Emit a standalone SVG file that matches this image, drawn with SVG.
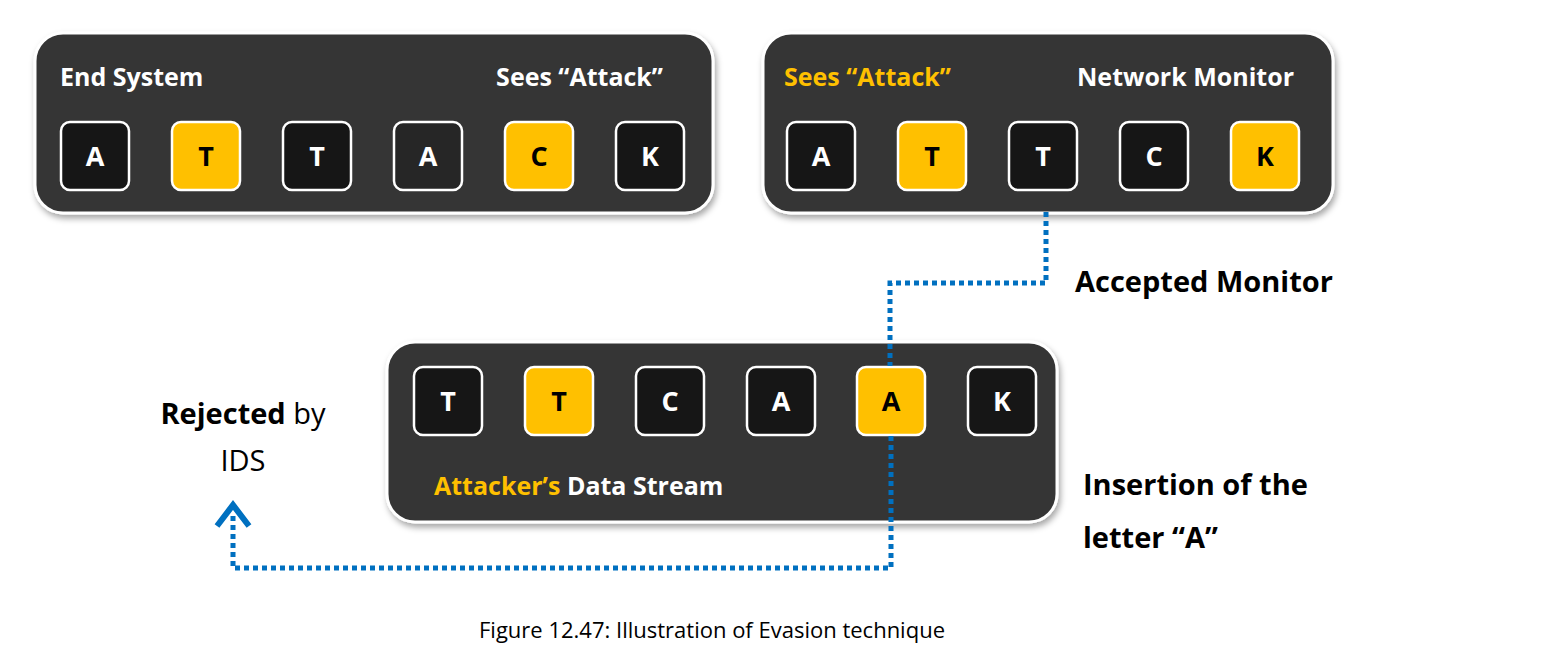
<svg xmlns="http://www.w3.org/2000/svg" width="1556" height="672" viewBox="0 0 1556 672">
<defs>
<filter id="sh" x="-5%" y="-10%" width="110%" height="125%"><feDropShadow dx="2" dy="4" stdDeviation="3" flood-color="#000" flood-opacity="0.35"/></filter>
</defs>
<style>
.panel{fill:#353535;stroke:#fff;stroke-width:3;filter:url(#sh)}
.tk{fill:#161616;stroke:#fff;stroke-width:2.5}
.ty{fill:#FFC000;stroke:#fff;stroke-width:2.5}
.tg{fill:#262626;stroke:#fff;stroke-width:2.5}
.lw{font-family:"Open Sans","Liberation Sans",sans-serif;font-weight:bold;font-size:27px;fill:#fff;text-anchor:middle}
.lb{font-family:"Open Sans","Liberation Sans",sans-serif;font-weight:bold;font-size:27px;fill:#000;text-anchor:middle}
.h{font-family:"Open Sans","Liberation Sans",sans-serif;font-weight:bold;font-size:25px;fill:#fff}
.y{fill:#FFC000}
.k{font-family:"Open Sans","Liberation Sans",sans-serif;font-size:29px;fill:#000}
.con{fill:none;stroke:#0070C0;stroke-width:5;stroke-dasharray:5 4}
</style>
<rect width="1556" height="672" fill="#fff"/>
<g id="endsystem">
<rect class="panel" x="35" y="33" width="678" height="180" rx="28"/>
<text class="h" x="60" y="86">End System</text>
<text class="h" x="663" y="86" text-anchor="end">Sees “Attack”</text>
<rect class="tk" x="61" y="122" width="68" height="68" rx="9"/><text class="lw" x="95" y="166">A</text>
<rect class="ty" x="172" y="122" width="68" height="68" rx="9"/><text class="lb" x="206" y="166">T</text>
<rect class="tk" x="283" y="122" width="68" height="68" rx="9"/><text class="lw" x="317" y="166">T</text>
<rect class="tg" x="394" y="122" width="68" height="68" rx="9"/><text class="lw" x="428" y="166" font-weight="normal">A</text>
<rect class="ty" x="505" y="122" width="68" height="68" rx="9"/><text class="lb" x="539" y="166">C</text>
<rect class="tk" x="616" y="122" width="68" height="68" rx="9"/><text class="lw" x="650" y="166">K</text>
</g>
<g id="monitor">
<rect class="panel" x="763" y="33" width="570" height="180" rx="28"/>
<text class="h y" x="784" y="86">Sees “Attack”</text>
<text class="h" x="1294" y="86" text-anchor="end">Network Monitor</text>
<rect class="tk" x="787" y="122" width="68" height="68" rx="9"/><text class="lw" x="821" y="166">A</text>
<rect class="ty" x="898" y="122" width="68" height="68" rx="9"/><text class="lb" x="932" y="166">T</text>
<rect class="tk" x="1009" y="122" width="68" height="68" rx="9"/><text class="lw" x="1043" y="166">T</text>
<rect class="tk" x="1120" y="122" width="68" height="68" rx="9"/><text class="lw" x="1154" y="166">C</text>
<rect class="ty" x="1231" y="122" width="68" height="68" rx="9"/><text class="lb" x="1265" y="166">K</text>
</g>
<g id="attacker">
<rect class="panel" x="387" y="342" width="670" height="180" rx="28"/>
<rect class="tk" x="414" y="367" width="68" height="68" rx="9"/><text class="lw" x="448" y="411">T</text>
<rect class="ty" x="525" y="367" width="68" height="68" rx="9"/><text class="lb" x="559" y="411">T</text>
<rect class="tk" x="636" y="367" width="68" height="68" rx="9"/><text class="lw" x="670" y="411">C</text>
<rect class="tk" x="747" y="367" width="68" height="68" rx="9"/><text class="lw" x="781" y="411">A</text>
<rect class="ty" x="857" y="367" width="68" height="68" rx="9"/><text class="lb" x="891" y="411">A</text>
<rect class="tk" x="968" y="367" width="68" height="68" rx="9"/><text class="lw" x="1002" y="411">K</text>
<text class="h" x="434" y="495" font-size="29"><tspan class="y">Attacker’s</tspan> Data Stream</text>
</g>
<g id="connectors">
<path class="con" d="M1046 212 V283 H890 V366"/>
<path class="con" d="M891 436 V568 H233 V512"/>
<path d="M217 526 L233 505 L249 526" fill="none" stroke="#0070C0" stroke-width="6"/>
</g>
<g id="labels">
<text class="k" x="1075" y="292" font-weight="bold">Accepted Monitor</text>
<text class="k" x="243" y="424" text-anchor="middle"><tspan font-weight="bold">Rejected</tspan> by</text>
<text class="k" x="243" y="471" text-anchor="middle">IDS</text>
<text class="k" x="1083" y="495" font-weight="bold" font-size="33">Insertion of the</text>
<text class="k" x="1083" y="548" font-weight="bold" font-size="33">letter “A”</text>
<text x="712" y="638" text-anchor="middle" font-family="Open Sans,Liberation Sans,sans-serif" font-size="22" fill="#000">Figure 12.47: Illustration of Evasion technique</text>
</g>
</svg>
